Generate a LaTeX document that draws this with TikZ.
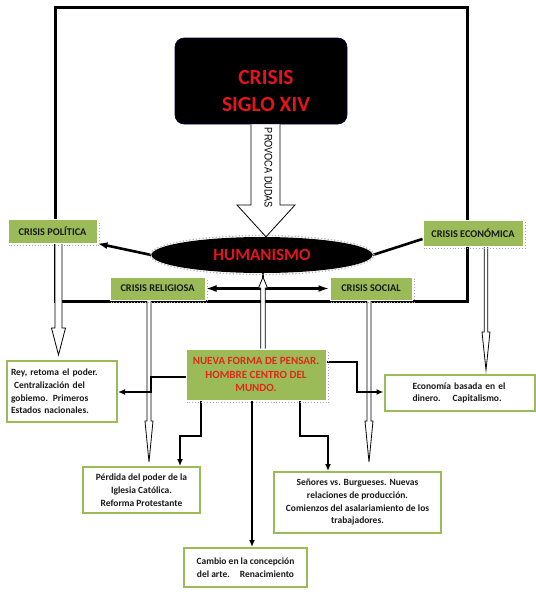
\documentclass[tikz,border=0pt]{standalone}
\usepackage{fontspec}
\setmainfont{Carlito}
\newfontfamily\arialfont{Liberation Sans}
\usetikzlibrary{shapes.geometric,arrows.meta,calc}
\definecolor{greenbox}{HTML}{9BBB59}
\definecolor{redtxt}{HTML}{E3141B}
\definecolor{redtxtb}{HTML}{E0281B}
\pgfdeclarelayer{bg}
\pgfsetlayers{bg,main}
\newcommand\hollowarr[5]{\draw[hollow] ($(#1)+(-#3,0)$) -- ($(#2)+(-#3,#5)$) -- ($(#2)+(-#4,#5)$) -- (#2) -- ($(#2)+(#4,#5)$) -- ($(#2)+(#3,#5)$) -- ($(#1)+(#3,0)$);}
\newcommand\gshadow[1]{\draw[gray!70, dotted, line width=0.9pt] ($(#1.south west)+(1,2)$) -- ($(#1.south east)+(2,2)$) -- ($(#1.north east)+(2,2)$);}
\begin{document}
\begin{tikzpicture}[x=1pt,y=-1pt,
  gbox/.style={fill=greenbox, draw=white, line width=1pt, inner sep=0pt, font=\bfseries\fontsize{10.3}{12}\selectfont, text=black!90},
  tbox/.style={fill=white, draw=greenbox, line width=2pt, inner sep=0pt, font=\bfseries\fontsize{9.5}{12.7}\selectfont, text=black!90},
  conn/.style={line width=2.2pt, -{Latex[length=7pt,width=6pt]}},
  hollow/.style={fill=white, draw=black, line width=0.8pt},
  thick conn/.style={line width=2.6pt},
]
\useasboundingbox (0,0) rectangle (536,598);

% main nodes
\node[fill=black, draw=black!70!blue, line width=0.6pt, rounded corners=9pt, minimum width=172pt, minimum height=86pt, inner sep=0pt] (crisis) at (261,81) {};
\node[text=redtxt, font=\bfseries\fontsize{21.5}{26.6}\selectfont, align=center, inner sep=0pt] (crisislbl) at (266,91) {CRISIS\\SIGLO XIV};

\node[ellipse, fill=black, inner sep=0pt, minimum width=221pt, minimum height=36pt, text=redtxt, font=\bfseries\fontsize{17}{17}\selectfont] (hum) at (262,255) {HUMANISMO};
\draw[gray!55, dotted, line width=1.3pt] (hum.center) ellipse [x radius=112pt, y radius=19.5pt];

\node[gbox, minimum width=89pt, minimum height=24pt] (pol) at (52.5,231) {CRISIS POLÍTICA};
\node[gbox, minimum width=100pt, minimum height=26pt] (eco) at (473,233) {CRISIS ECONÓMICA};
\node[gbox, minimum width=95pt, minimum height=23pt] (rel) at (157.5,288.5) {CRISIS RELIGIOSA};
\node[gbox, minimum width=82pt, minimum height=23pt] (soc) at (371,288.5) {CRISIS SOCIAL};
\gshadow{pol}\gshadow{eco}\gshadow{rel}\gshadow{soc}

\node[gbox, minimum width=140pt, minimum height=51pt, text=redtxtb, align=center, font=\bfseries\fontsize{11}{13.5}\selectfont] (nueva) at (256,374.5) {NUEVA FORMA DE PENSAR.\\HOMBRE CENTRO DEL\\MUNDO.};
\gshadow{nueva}

\node[tbox, minimum height=61pt, text width=102pt, inner xsep=4pt, align=left] (rey) at (62,391.5) {Rey, retoma el poder.\\\hspace*{3pt}Centralización del\\gobiemo. Primeros\\Estados nacionales.};
\node[tbox, minimum height=36pt, text width=94pt, inner xsep=28pt, align=left] (ecot) at (459.5,393) {Economía basada en el\\dinero.\hspace{12pt}Capitalismo.};
\node[tbox, minimum width=117pt, minimum height=46pt, align=center] (perd) at (141.5,490) {Pérdida del poder de la\\Iglesia Católica.\\Reforma Protestante};
\node[tbox, minimum width=167pt, minimum height=61pt, align=center] (sen) at (357.5,502.5) {Señores vs. Burgueses. Nuevas\\relaciones de producción.\\Comienzos del asalariamiento de los\\trabajadores.};
\node[tbox, minimum width=123pt, minimum height=39pt, align=center] (camb) at (245.5,567.5) {Cambio en la concepción\\del arte.\hspace{10pt}Renacimiento};

% big arrow
\draw[hollow] (crisis.south -| 251,0) -- (251,205) -- (237,205) -- (hum.north -| 266,0) -- (295,205) -- (280,205) -- (crisis.south -| 280,0);
\node[rotate=-90, inner sep=0pt, font=\arialfont\fontsize{11}{11}\selectfont] (provoca) at (268.5,168) {\scalebox{0.83}[1]{PROVOCA DUDAS}};

\begin{pgfonlayer}{bg}
\draw[line width=3pt] (55,7) rectangle (467,301);
\draw[thick conn, -{Latex[length=10pt,width=7pt]}] (hum.west) -- (pol.south east);
\draw[thick conn] (hum.east) -- ($(eco.west)+(0,6)$);
\draw[thick conn, {Latex[length=11pt,width=7pt]}-{Latex[length=11pt,width=7pt]}] (rel.east) -- (soc.west);
\draw[thick conn] (hum.south -| 263,0) -- (263,287);
\hollowarr{pol.south -| 58.5,0}{58.5,355}{3.5}{7}{-27}
\hollowarr{rel.south -| 149,0}{149,462}{2}{4}{-41}
\hollowarr{soc.south -| 369,0}{369,462}{2}{4}{-41}
\hollowarr{eco.south -| 486,0}{486,370}{1.8}{4}{-38}
\hollowarr{nueva.north -| 263,0}{263,277}{2.2}{4.5}{11}
\draw[conn] (nueva.west |- 0,377) -- (151,377) -- (151,392) -- (rey.east |- 0,392);
\draw[conn] (nueva.east |- 0,362) -- (357,362) -- (357,392) -- (ecot.west |- 0,392);
\draw[conn] (nueva.south -| 201,0) -- (201,436) -- (180,436) -- (perd.north -| 180,0);
\draw[conn] (nueva.south -| 252,0) -- (camb.north -| 252,0);
\draw[conn] (nueva.south -| 300,0) -- (300,436) -- (328,436) -- (sen.north -| 328,0);
\end{pgfonlayer}
\end{tikzpicture}
\end{document}
